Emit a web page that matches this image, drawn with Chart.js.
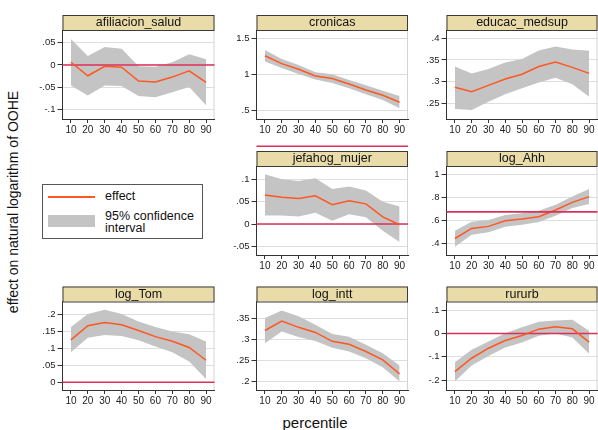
<!DOCTYPE html>
<html><head><meta charset="utf-8">
<script src="https://cdn.jsdelivr.net/npm/chart.js@4.4.1/dist/chart.umd.min.js"></script>
<style>
body{margin:0;background:#fff;width:598px;height:430px;overflow:hidden;font-family:"Liberation Sans",Arial,sans-serif;position:relative;}
canvas{position:absolute;left:0;top:0;}
#ytitle{position:absolute;left:12.8px;top:202px;transform:translate(-50%,-50%) rotate(-90deg);white-space:nowrap;font-size:14px;color:#111;}
#xtitle{position:absolute;left:315px;top:422px;transform:translate(-50%,-50%);white-space:nowrap;font-size:15px;color:#111;}
#legend{position:absolute;left:42px;top:184px;width:159px;height:53px;border:1px solid #555;background:#fff;z-index:20;}
.lg-line{position:absolute;left:5px;top:11px;width:47px;height:1.5px;background:#FF5722;}
.lg-patch{position:absolute;left:5px;top:30px;width:47px;height:12px;background:#C4C4C4;}
.lg-t{position:absolute;left:62px;font-size:12.5px;line-height:11.5px;color:#111;white-space:nowrap;}
</style></head>
<body>
<div id="ytitle">effect on natural logarithm of OOHE</div>
<div id="xtitle">percentile</div>
<div id="legend">
  <div class="lg-line"></div><div class="lg-t" style="top:6px">effect</div>
  <div class="lg-patch"></div><div class="lg-t" style="top:26px">95% confidence<br>interval</div>
</div>
<script>
// ---------- data ----------
const percentiles = [10,20,30,40,50,60,70,80,90];

const afiliacion_salud_effect = [0.006,-0.024,-0.003,-0.005,-0.036,-0.038,-0.027,-0.013,-0.039];
const afiliacion_salud_upper  = [0.058, 0.020, 0.040, 0.036,-0.003,-0.004, 0.006, 0.024, 0.013];
const afiliacion_salud_lower  = [-0.046,-0.068,-0.046,-0.047,-0.069,-0.072,-0.061,-0.049,-0.090];
const afiliacion_salud_ticks  = [-0.1,-0.05,0,0.05];

const cronicas_effect = [1.257,1.148,1.07,0.977,0.94,0.866,0.782,0.708,0.611];
const cronicas_upper  = [1.338,1.213,1.13,1.028,1.0,0.92,0.847,0.773,0.700];
const cronicas_lower  = [1.176,1.088,1.005,0.926,0.88,0.806,0.722,0.644,0.528];
const cronicas_ticks  = [0.5,1,1.5];

const educac_medsup_effect = [0.287,0.277,0.2915,0.306,0.317,0.335,0.345,0.333,0.319];
const educac_medsup_upper  = [0.335,0.319,0.329,0.344,0.352,0.372,0.381,0.374,0.371];
const educac_medsup_lower  = [0.237,0.235,0.254,0.271,0.285,0.298,0.309,0.294,0.265];
const educac_medsup_ticks  = [0.25,0.3,0.35,0.4];

const jefahog_mujer_effect = [0.065,0.060,0.057,0.063,0.043,0.052,0.045,0.016,-0.0015];
const jefahog_mujer_upper  = [0.111,0.100,0.096,0.102,0.078,0.084,0.075,0.050,0.039];
const jefahog_mujer_lower  = [0.019,0.019,0.017,0.025,0.0075,0.022,0.015,-0.015,-0.040];
const jefahog_mujer_ticks  = [-0.05,0,0.05,0.1];

const log_Ahh_effect = [0.446,0.533,0.551,0.600,0.614,0.635,0.693,0.759,0.809];
const log_Ahh_upper  = [0.513,0.591,0.606,0.649,0.664,0.687,0.739,0.809,0.875];
const log_Ahh_lower  = [0.374,0.478,0.499,0.548,0.565,0.588,0.643,0.710,0.745];
const log_Ahh_ticks  = [0.4,0.6,0.8,1];

const log_Tom_effect = [0.1245,0.166,0.1755,0.169,0.152,0.134,0.1205,0.102,0.0647];
const log_Tom_upper  = [0.162,0.200,0.213,0.200,0.178,0.162,0.149,0.141,0.120];
const log_Tom_lower  = [0.088,0.131,0.139,0.136,0.123,0.105,0.088,0.061,0.0098];
const log_Tom_ticks  = [0,0.05,0.1,0.15,0.2];

const log_intt_effect = [0.3205,0.343,0.328,0.316,0.295,0.288,0.271,0.251,0.218];
const log_intt_upper  = [0.350,0.368,0.354,0.334,0.312,0.306,0.287,0.267,0.2376];
const log_intt_lower  = [0.2905,0.318,0.305,0.296,0.280,0.271,0.255,0.234,0.200];
const log_intt_ticks  = [0.2,0.25,0.3,0.35];

const rururb_effect = [-0.163,-0.106,-0.063,-0.030,-0.0086,0.0186,0.0286,0.020,-0.037];
const rururb_upper  = [-0.123,-0.070,-0.034,0.0014,0.027,0.050,0.056,0.059,0.0114];
const rururb_lower  = [-0.206,-0.137,-0.096,-0.060,-0.039,-0.010,0.000,-0.017,-0.087];
const rururb_ticks  = [-0.2,-0.1,0,0.1];

// ---------- layout ----------
const W = 598, H = 430;
const cols = [{l:62.5,r:214.5},{l:256.5,r:408},{l:446.5,r:597.5}];
const rows = [{t:30,b:119},{t:166,b:255},{t:301.5,b:390}];
const YAXW = 40, XAXH = 20, HEAD = 15;

const panels = [
  {name:'afiliacion_salud', e:afiliacion_salud_effect, u:afiliacion_salud_upper, lo:afiliacion_salud_lower, ticks:afiliacion_salud_ticks, r:0, c:0, ymin:-0.1205, ymax:0.078},
  {name:'cronicas', e:cronicas_effect, u:cronicas_upper, lo:cronicas_lower, ticks:cronicas_ticks, r:0, c:1, ymin:0.379, ymax:1.615},
  {name:'jefahog_mujer', e:jefahog_mujer_effect, u:jefahog_mujer_upper, lo:jefahog_mujer_lower, ticks:jefahog_mujer_ticks, r:1, c:1, ymin:-0.069, ymax:0.1295},
  {name:'log_Ahh', e:log_Ahh_effect, u:log_Ahh_upper, lo:log_Ahh_lower, ticks:log_Ahh_ticks, r:1, c:2, ymin:0.303, ymax:1.074},
  {name:'educac_medsup', e:educac_medsup_effect, u:educac_medsup_upper, lo:educac_medsup_lower, ticks:educac_medsup_ticks, r:0, c:2, ymin:0.214, ymax:0.419},
  {name:'log_Tom', e:log_Tom_effect, u:log_Tom_upper, lo:log_Tom_lower, ticks:log_Tom_ticks, r:2, c:0, ymin:-0.0226, ymax:0.237},
  {name:'log_intt', e:log_intt_effect, u:log_intt_upper, lo:log_intt_lower, ticks:log_intt_ticks, r:2, c:1, ymin:0.18, ymax:0.389},
  {name:'rururb', e:rururb_effect, u:rururb_upper, lo:rururb_lower, ticks:rururb_ticks, r:2, c:2, ymin:-0.242, ymax:0.137}
];

const FONT = '"Liberation Sans", Arial, sans-serif';
const fmt = v => {
  let s = String(+Number(v).toFixed(3));
  return s.replace(/^0\./,'.').replace(/^-0\./,'-.');
};
const pts = arr => arr.map((v,i)=>({x:percentiles[i], y:v}));

const panelPlugin = {
  id:'panelDeco',
  beforeDatasetsDraw(chart){
    const a = chart.chartArea, ctx = chart.ctx;
    ctx.save();
    ctx.strokeStyle = '#d4d4d4'; ctx.lineWidth = 1;
    ctx.beginPath(); ctx.moveTo(a.right-0.5, a.top); ctx.lineTo(a.right-0.5, a.bottom); ctx.stroke();
    ctx.restore();
  },
  beforeDatasetDraw(chart, args){
    if (args.index !== 0) return;
    const a = chart.chartArea, ctx = chart.ctx;
    const y = chart.scales.y.getPixelForValue(0);
    if (y < -5 || y > H + 5) return;
    ctx.save();
    ctx.strokeStyle = '#DC2F5A'; ctx.lineWidth = 1.6;
    ctx.beginPath(); ctx.moveTo(a.left, y); ctx.lineTo(a.right, y); ctx.stroke();
    ctx.restore();
  },
  afterDraw(chart){
    const a = chart.chartArea, ctx = chart.ctx;
    const name = chart.options.plugins.panelDeco.title;
    ctx.save();
    ctx.fillStyle = '#EADCA9';
    ctx.fillRect(a.left, a.top - HEAD, a.right - a.left, HEAD);
    ctx.strokeStyle = '#3a3a3a'; ctx.lineWidth = 1;
    ctx.strokeRect(a.left + 0.5, a.top - HEAD + 0.5, a.right - a.left - 1, HEAD);
    ctx.fillStyle = '#111';
    ctx.font = '12.5px ' + FONT;
    ctx.textAlign = 'center'; ctx.textBaseline = 'middle';
    ctx.fillText(name, (a.left + a.right)/2, a.top - HEAD/2 + 0.5);
    ctx.restore();
  }
};

panels.forEach(p => {
  const cv = document.createElement('canvas');
  cv.width = W; cv.height = H;
  cv.style.width = W + 'px'; cv.style.height = H + 'px';
  document.body.appendChild(cv);
  const col = cols[p.c], row = rows[p.r];
  new Chart(cv.getContext('2d'), {
    type:'line',
    data:{ datasets:[
      {label:'effect', data:pts(p.e), borderColor:'#FF5722', borderWidth:1.5, pointRadius:0, fill:false, tension:0},
      {label:'upper', data:pts(p.u), borderColor:'rgba(0,0,0,0)', borderWidth:0, pointRadius:0, backgroundColor:'#C4C4C4', fill:'+1', tension:0},
      {label:'lower', data:pts(p.lo), borderColor:'rgba(0,0,0,0)', borderWidth:0, pointRadius:0, fill:false, tension:0}
    ]},
    options:{
      responsive:false, animation:false, devicePixelRatio:1,
      layout:{ padding:{ left: col.l - YAXW, right: W - col.r, top: row.t, bottom: H - row.b - XAXH } },
      plugins:{ legend:{display:false}, tooltip:{enabled:false}, panelDeco:{title:p.name} },
      scales:{
        x:{ type:'linear', min:5, max:95,
            afterBuildTicks: s => { s.ticks = percentiles.map(v=>({value:v})); },
            afterFit: s => { s.height = XAXH; },
            grid:{ drawOnChartArea:false, drawTicks:true, tickLength:4, tickColor:'#333', tickWidth:1 },
            border:{ display:true, color:'#333', width:1 },
            ticks:{ font:{family:FONT, size:10}, color:'#222', padding:1, maxRotation:0, autoSkip:false, callback:v=>String(v) } },
        y:{ type:'linear', min:p.ymin, max:p.ymax,
            afterBuildTicks: s => { s.ticks = p.ticks.map(v=>({value:v})); },
            afterFit: s => { s.width = YAXW; },
            grid:{ drawOnChartArea:true, color:'#DEDEDE', lineWidth:1, drawTicks:true, tickLength:5, tickColor:'#333', tickWidth:1 },
            border:{ display:true, color:'#333', width:1 },
            ticks:{ font:{family:FONT, size:9.5}, color:'#222', padding:2, autoSkip:false, callback:v=>fmt(v) } }
      }
    },
    plugins:[panelPlugin]
  });
});
</script>
</body></html>
